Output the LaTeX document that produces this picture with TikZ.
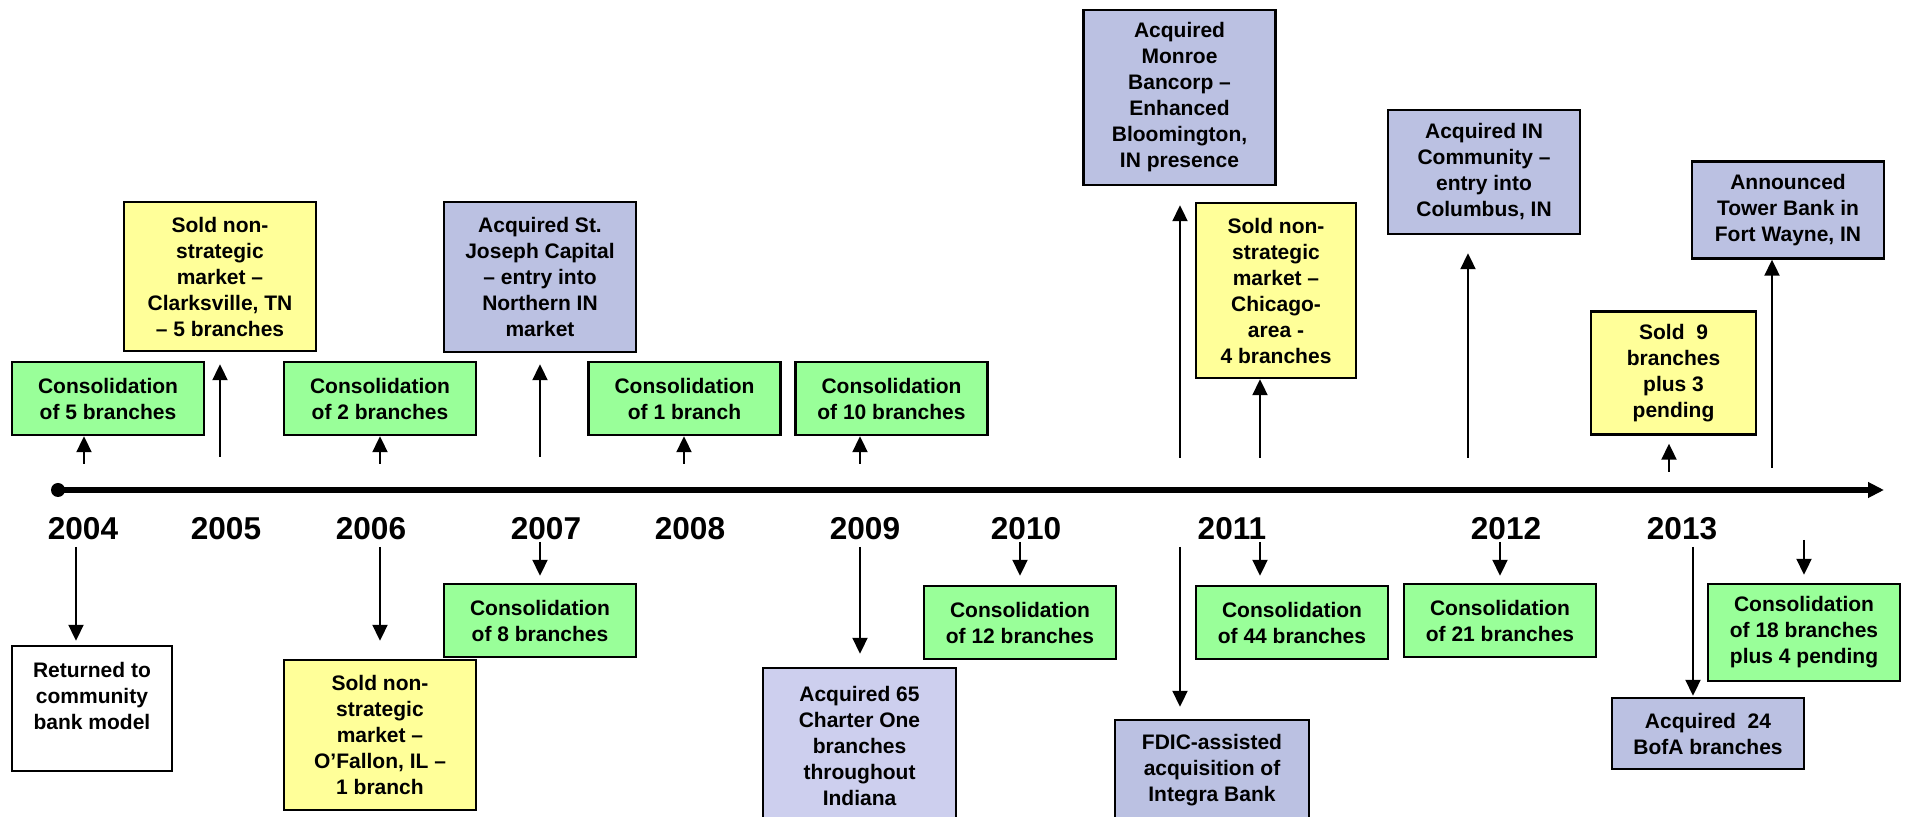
\documentclass[tikz,border=0pt]{standalone}
\usepackage{fontspec}
\setmainfont{Liberation Sans}
\usetikzlibrary{arrows.meta}

\definecolor{consgreen}{RGB}{153,255,153}
\definecolor{soldyellow}{RGB}{255,255,153}
\definecolor{acqblue}{RGB}{187,193,226}
\definecolor{acqlight}{RGB}{205,207,238}

\begin{document}
\begin{tikzpicture}[x=0.5pt,y=-0.5pt,
    box/.style={draw, line width=1.2pt, align=center, inner sep=0pt,
      minimum width=96pt, font=\fontsize{10.5}{13}\selectfont\bfseries},
    cons/.style={box, fill=consgreen, minimum height=36.5pt},
    sold/.style={box, fill=soldyellow},
    acq/.style={box, fill=acqblue},
    year/.style={font=\fontsize{15.8}{18}\selectfont\bfseries},
    conn/.style={line width=1pt, -{Triangle[length=8pt,width=7.5pt]}}]
    \useasboundingbox (0,0) rectangle (1907,817);

    % Timeline
    \coordinate (tstart) at (58,490);
    \coordinate (tend) at (1884,490);
    \fill (tstart) circle (3.5pt);
    \draw[line width=3pt, -{Triangle[length=8pt,width=7.5pt]}] (tstart) -- (tend);

    % Years
    \foreach \yr/\x in {2004/83, 2005/226, 2006/371, 2007/546, 2008/690,
                        2009/865, 2010/1026, 2011/1232, 2012/1506, 2013/1682} {
        \node[year] (y\yr) at (\x,529) {\yr};
    }

    % Events above the line
    \node[cons] (cons5) at (108,398.5) {Consolidation\\of 5 branches};
    \node[sold, minimum height=74.5pt] (clark) at (220,276.5)
        {Sold non-\\strategic\\market –\\Clarksville, TN\\– 5 branches};
    \node[cons] (cons2) at (380,398.5) {Consolidation\\of 2 branches};
    \node[acq, minimum height=75pt] (stjoe) at (540,277)
        {Acquired St.\\Joseph Capital\\– entry into\\Northern IN\\market};
    \node[cons] (cons1) at (684.5,398.5) {Consolidation\\of 1 branch};
    \node[cons] (cons10) at (891.5,398.5) {Consolidation\\of 10 branches};
    \node[acq, minimum height=87.5pt] (monroe) at (1179.5,97.5)
        {Acquired\\Monroe\\Bancorp –\\Enhanced\\Bloomington,\\IN presence};
    \node[sold, minimum width=80pt, minimum height=87.5pt] (chicago) at (1276,290.5)
        {Sold non-\\strategic\\market –\\Chicago-\\area -\\4 branches};
    \node[acq, minimum height=62pt] (incomm) at (1484,172)
        {Acquired IN\\Community –\\entry into\\Columbus, IN};
    \node[sold, minimum width=82.5pt, minimum height=61.5pt] (sold9) at (1673.5,373)
        {Sold~~9\\branches\\plus 3\\pending};
    \node[acq, minimum height=48.5pt] (tower) at (1788,210)
        {Announced\\Tower Bank in\\Fort Wayne, IN};

    % Events below the line
    \node[box, fill=white, minimum width=80pt, minimum height=62.5pt] (white) at (92,708.5)
        {Returned to\\community\\bank model\\\mbox{}};
    \node[sold, minimum height=75pt] (ofallon) at (380,735)
        {Sold non-\\strategic\\market –\\O’Fallon, IL –\\1 branch};
    \node[cons] (cons8) at (540,620.5) {Consolidation\\of 8 branches};
    \node[box, fill=acqlight, minimum width=96.5pt, minimum height=78pt] (charter) at (859.5,746)
        {Acquired 65\\Charter One\\branches\\throughout\\Indiana};
    \node[cons] (cons12) at (1020,622.5) {Consolidation\\of 12 branches};
    \node[acq, minimum width=97pt, minimum height=50pt] (integra) at (1212,770)
        {FDIC-assisted\\acquisition of\\Integra Bank};
    \node[cons] (cons44) at (1292,622.5) {Consolidation\\of 44 branches};
    \node[cons] (cons21) at (1500,620.5) {Consolidation\\of 21 branches};
    \node[acq, minimum height=35.5pt] (bofa) at (1708,733.5)
        {Acquired~~24\\BofA branches};
    \node[cons, minimum height=48.5pt] (cons18) at (1804,632.5)
        {Consolidation\\of 18 branches\\plus 4 pending};

    % Arrow tails
    \coordinate (u04) at (84,464);    \coordinate (u05) at (220,457);
    \coordinate (u06) at (380,464);   \coordinate (u07) at (540,457);
    \coordinate (u08) at (684,464);   \coordinate (u09) at (860,464);
    \coordinate (u11a) at (1180,458); \coordinate (u11b) at (1260,458);
    \coordinate (u12) at (1468,458);  \coordinate (u13a) at (1669,472);
    \coordinate (u13b) at (1772,468);
    \coordinate (d04) at (76,547);    \coordinate (d06) at (380,547);
    \coordinate (d07) at (540,542);   \coordinate (d09) at (860,547);
    \coordinate (d10) at (1020,542);  \coordinate (d11a) at (1180,547);
    \coordinate (d11b) at (1260,542); \coordinate (d12) at (1500,542);
    \coordinate (d13a) at (1693,547); \coordinate (d13b) at (1804,540);

    % Arrows up
    \foreach \c/\n/\g in {u04/cons5/0pt, u05/clark/6pt, u06/cons2/0pt, u07/stjoe/5.5pt,
                          u08/cons1/0pt, u09/cons10/0pt, u11a/monroe/9.5pt, u11b/chicago/0pt,
                          u12/incomm/9pt, u13a/sold9/4pt, u13b/tower/0pt} {
        \draw[conn, shorten >=\g] (\c) -- (\c |- \n.south);
    }

    % Arrows down
    \foreach \c/\n/\g in {d04/white/2pt, d06/ofallon/9pt, d07/cons8/3.5pt, d09/charter/6.5pt,
                          d10/cons12/4.5pt, d11a/integra/6pt, d11b/cons44/4.5pt,
                          d12/cons21/3.5pt, d13a/bofa/0.5pt, d13b/cons18/4pt} {
        \draw[conn, shorten >=\g] (\c) -- (\c |- \n.north);
    }
\end{tikzpicture}
\end{document}
